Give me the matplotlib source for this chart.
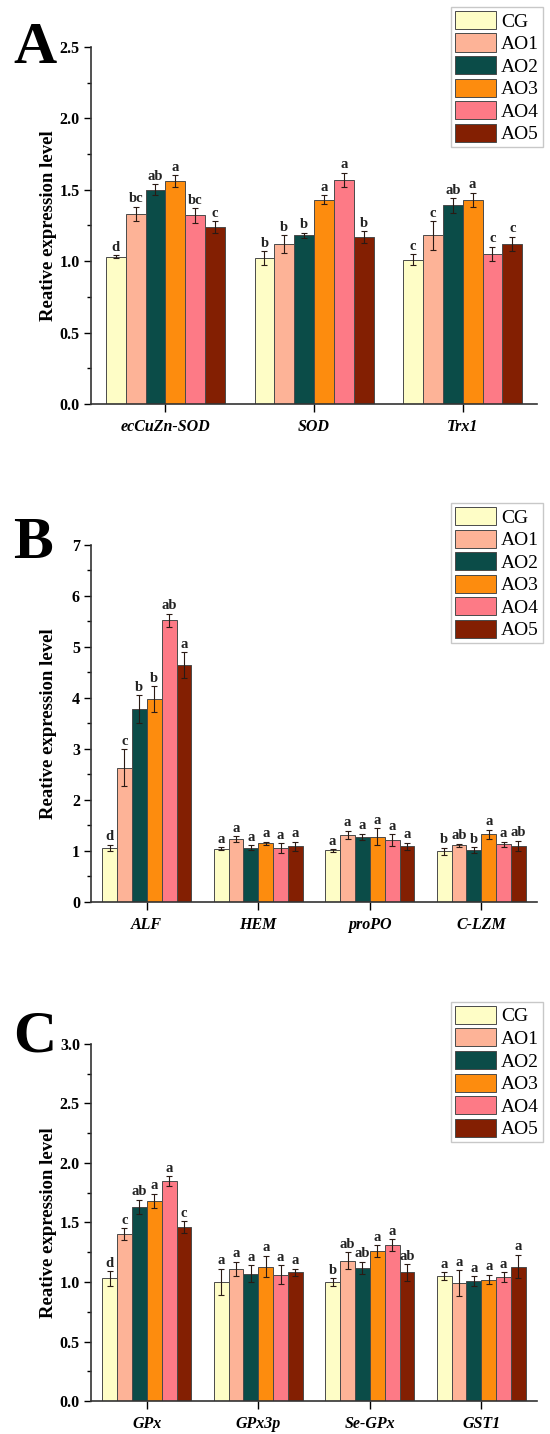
import numpy as np
import matplotlib.pyplot as plt
from matplotlib.ticker import MultipleLocator, FormatStrFormatter

plt.rcParams['font.family'] = ['Liberation Serif', 'DejaVu Serif']

groups = ['CG', 'AO1', 'AO2', 'AO3', 'AO4', 'AO5']
colors = ['#FEFDC6', '#FDB397', '#0B4C48', '#FD8C0E', '#FD7A86', '#831F02']

# panel A
genes_a = ['ecCuZn-SOD', 'SOD', 'Trx1']
vals_a = [[1.03, 1.02, 1.01],
          [1.33, 1.12, 1.18],
          [1.50, 1.18, 1.39],
          [1.56, 1.43, 1.43],
          [1.32, 1.57, 1.05],
          [1.24, 1.17, 1.12]]
err_a = [[0.01, 0.05, 0.04],
         [0.05, 0.06, 0.10],
         [0.04, 0.02, 0.05],
         [0.04, 0.03, 0.05],
         [0.05, 0.05, 0.05],
         [0.04, 0.04, 0.05]]
sig_a = [['d', 'b', 'c'],
         ['bc', 'b', 'c'],
         ['ab', 'b', 'ab'],
         ['a', 'a', 'a'],
         ['bc', 'a', 'c'],
         ['c', 'b', 'c']]

# panel B
genes_b = ['ALF', 'HEM', 'proPO', 'C-LZM']
vals_b = [[1.06, 1.04, 1.01, 0.99],
          [2.63, 1.23, 1.32, 1.11],
          [3.78, 1.06, 1.28, 1.02],
          [3.98, 1.15, 1.28, 1.33],
          [5.52, 1.06, 1.21, 1.13],
          [4.65, 1.09, 1.09, 1.10]]
err_b = [[0.06, 0.03, 0.03, 0.07],
         [0.36, 0.06, 0.08, 0.03],
         [0.27, 0.05, 0.06, 0.05],
         [0.25, 0.03, 0.17, 0.09],
         [0.13, 0.09, 0.12, 0.05],
         [0.25, 0.09, 0.07, 0.10]]
sig_b = [['d', 'a', 'a', 'b'],
         ['c', 'a', 'a', 'ab'],
         ['b', 'a', 'a', 'b'],
         ['b', 'a', 'a', 'a'],
         ['ab', 'a', 'a', 'a'],
         ['a', 'a', 'a', 'ab']]

# panel C
genes_c = ['GPx', 'GPx3p', 'Se-GPx', 'GST1']
vals_c = [[1.03, 1.00, 1.00, 1.05],
          [1.40, 1.11, 1.18, 0.99],
          [1.63, 1.07, 1.12, 1.01],
          [1.68, 1.13, 1.26, 1.02],
          [1.85, 1.06, 1.31, 1.04],
          [1.46, 1.08, 1.08, 1.13]]
err_c = [[0.06, 0.11, 0.03, 0.03],
         [0.05, 0.06, 0.07, 0.11],
         [0.06, 0.07, 0.05, 0.04],
         [0.06, 0.09, 0.05, 0.04],
         [0.04, 0.08, 0.05, 0.04],
         [0.05, 0.03, 0.07, 0.10]]
sig_c = [['d', 'a', 'b', 'a'],
         ['c', 'a', 'ab', 'a'],
         ['ab', 'a', 'ab', 'a'],
         ['a', 'a', 'a', 'a'],
         ['a', 'a', 'a', 'a'],
         ['c', 'a', 'ab', 'a']]

fig = plt.figure(figsize=(5.5, 14.34), dpi=100)

panels = [
    ('A', genes_a, vals_a, err_a, sig_a, 2.5, 0.5, 0.25, '%.1f', 0.7183, 0.9560, 0.9951),
    ('B', genes_b, vals_b, err_b, sig_b, 7, 1, 0.5, '%d', 0.3710, 0.6110, 0.6492),
    ('C', genes_c, vals_c, err_c, sig_c, 3.0, 0.5, 0.25, '%.1f', 0.0230, 0.2670, 0.3013),
]

width = 0.8 / 6
for letter, genes, vals, errs, sigs, ymax, major, minor, fmt, bottom, ltr_y, leg_top in panels:
    ax = fig.add_axes([0.1655, bottom, 0.811, 0.249])
    x = np.arange(len(genes))
    for i, g in enumerate(groups):
        xi = x - 0.4 + width * (i + 0.5)
        ax.bar(xi, vals[i], width, color=colors[i], edgecolor='#4a4a4a',
               linewidth=0.7, label=g, zorder=2)
        ax.errorbar(xi, vals[i], yerr=errs[i], fmt='none', ecolor='#2a1a14',
                    elinewidth=0.8, capsize=2.5, capthick=0.8, zorder=3)
        for xx, v, e, s in zip(xi, vals[i], errs[i], sigs[i]):
            ax.text(xx, v + e + ymax * 0.004, s, ha='center', va='bottom',
                    fontsize=10.5, fontweight='bold', color='#222222')
    ax.set_xlim(-0.5, len(genes) - 0.5)
    ax.set_ylim(0, ymax)
    ax.yaxis.set_major_locator(MultipleLocator(major))
    ax.yaxis.set_minor_locator(MultipleLocator(minor))
    ax.yaxis.set_major_formatter(FormatStrFormatter(fmt))
    ax.set_xticks(x)
    ax.set_xticklabels(genes, fontsize=11.5, fontweight='bold', style='italic')
    for t in ax.get_yticklabels():
        t.set_fontsize(11.5)
        t.set_fontweight('bold')
    ax.tick_params(axis='y', which='major', length=5, width=1, direction='out', pad=3)
    ax.tick_params(axis='y', which='minor', length=3, width=1, direction='out')
    ax.tick_params(axis='x', which='major', length=6, width=1, direction='out', pad=5)
    ax.spines['top'].set_visible(False)
    ax.spines['right'].set_visible(False)
    for sp in ['left', 'bottom']:
        ax.spines[sp].set_linewidth(1.2)
        ax.spines[sp].set_color('#333333')
    ax.set_ylabel('Reative expression level', fontsize=13.5, fontweight='bold')
    ax.yaxis.set_label_coords(-0.077, 0.5)
    fig.text(0.024, ltr_y, letter, fontsize=43, fontweight='bold', va='baseline', ha='left')
    leg = ax.legend(loc='upper right', bbox_to_anchor=(0.987, leg_top),
                    bbox_transform=fig.transFigure, fontsize=14, frameon=True,
                    fancybox=False, edgecolor='#bbbbbb', handlelength=2.1,
                    handleheight=1.05, labelspacing=0.15, handletextpad=0.25,
                    borderpad=0.2, borderaxespad=0)
    leg.get_frame().set_linewidth(1.0)

fig.savefig('out.png', dpi=100)
